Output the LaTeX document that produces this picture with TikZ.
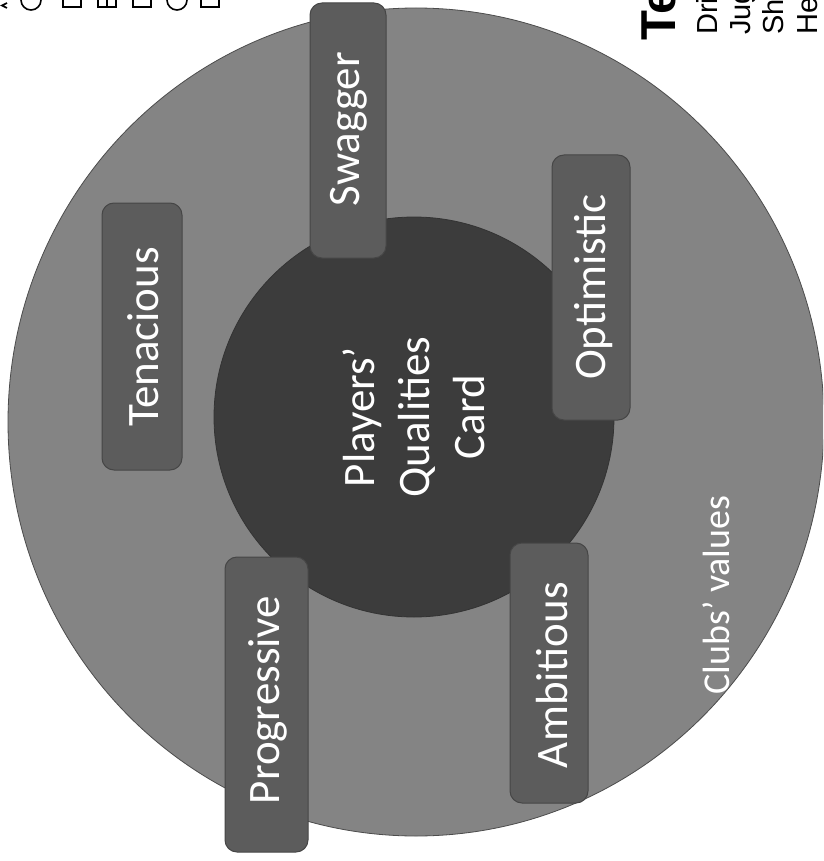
\documentclass[tikz,border=0pt]{standalone}
\usepackage{fontspec}
\usetikzlibrary{shapes.geometric}
\setmainfont{Carlito}
\newfontfamily\arialf{Liberation Sans}
\definecolor{outergray}{RGB}{132,132,132}
\definecolor{innergray}{RGB}{60,60,60}
\definecolor{boxgray}{RGB}{92,92,92}
\definecolor{boxedge}{RGB}{70,70,70}
\begin{document}
\begin{tikzpicture}[x=1pt,y=-1pt,
  lbl/.style={text=white,font=\fontsize{45}{55}\selectfont,rotate=90,align=center,inner sep=0pt},
  qbox/.style={fill=boxgray,draw=boxedge,line width=1pt,rounded corners=12pt,rotate=90,inner sep=0pt},
  frag/.style={line width=1.6pt,black},
  sidetxt/.style={rotate=90,anchor=base west,inner sep=0pt,font=\arialf\fontsize{29}{33}\selectfont}]
\useasboundingbox (0,0) rectangle (823,861);
\clip (0,0) rectangle (823,861);
\fill[white] (0,0) rectangle (823,861);
% circles
\node[fill=outergray,draw=black!70,line width=0.8pt,ellipse,inner sep=0pt,minimum width=816pt,minimum height=828pt] (clubs) at (416,422) {};
\node[fill=innergray,draw=black!80,line width=0.8pt,circle,inner sep=0pt,minimum size=400pt] (card) at (414,417) {};
% quality boxes
\node[qbox,minimum width=255pt,minimum height=76pt] (swagger) at (348,130.5) {};
\node[qbox,minimum width=267pt,minimum height=80pt] (tenacious) at (142,336.5) {};
\node[qbox,minimum width=265pt,minimum height=78pt] (optimistic) at (591,287.5) {};
\node[qbox,minimum width=260pt,minimum height=78pt] (ambitious) at (549,673) {};
\node[qbox,minimum width=295pt,minimum height=83pt] (progressive) at (266.5,704.5) {};
% labels
\node[lbl] (tswagger) at (349,129) {Swagger};
\node[lbl] (ttenacious) at (143,337) {Tenacious};
\node[lbl] (toptimistic) at (594,287) {Optimistic};
\node[lbl] (tambitious) at (552,675) {Ambitious};
\node[lbl] (tprogressive) at (268,700) {Progressive};
\node[lbl] (tcard) at (414,417) {Players’\\Qualities\\Card};
\node[lbl,font=\fontsize{38}{46}\selectfont] (tclubs) at (716,595) {Clubs’ values};
% top-left text fragments
\draw[frag] (7,3) -- (2,5.5) -- (7,8);
\draw[frag] (31,0) circle [radius=10];
\draw[frag] (63,0) -- (63,7) -- (81,7) -- (81,0);
\draw[frag] (98,0) -- (98,7) -- (116,7) -- (116,0) (107,0) -- (107,7);
\draw[frag] (133,0) -- (133,7) -- (151,7) -- (151,0);
\draw[frag] (177,0) circle [radius=10];
\draw[frag] (201,0) -- (201,7) -- (219,7) -- (219,0);
% top-right text fragments
\node[sidetxt,font=\arialf\bfseries\fontsize{49}{54}\selectfont] (te) at (675,41) {Te};
\node[sidetxt] (drib) at (717,35) {Drib};
\node[sidetxt] (jug) at (750,35) {Jug};
\node[sidetxt] (sho) at (783,35) {Sho};
\node[sidetxt] (hea) at (817,35) {Hea};
\end{tikzpicture}
\end{document}
